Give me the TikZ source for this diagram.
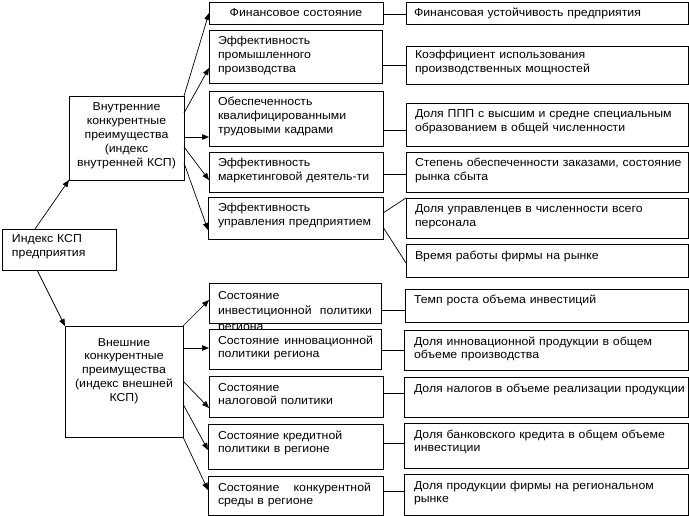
\documentclass[tikz,border=0pt]{standalone}
\usepackage{fontspec}
\setmainfont{Liberation Sans}[FakeStretch=1.07]
\usetikzlibrary{arrows.meta,calc}
\newcommand\fsz{\fontsize{11.5}{13.8}\selectfont}
\begin{document}
\begin{tikzpicture}[x=1pt,y=-1pt,
  bx/.style={draw=black, line width=0.8pt, fill=white, anchor=north west, inner sep=0pt, outer sep=0pt},
  txt/.style={anchor=base west, inner sep=0pt, outer sep=0pt, align=left, font=\fsz},
  ctxt/.style={anchor=base, inner sep=0pt, outer sep=0pt, align=center, font=\fsz},
  arr/.style={line width=0.7pt, -{Triangle[length=7pt,width=5.5pt]}},
  ln/.style={line width=0.7pt}]
\useasboundingbox (0,0) rectangle (689,516);

% ---------- central boxes ----------
\node[bx, minimum width=114, minimum height=41] (idx) at (2,229) {};
\node[txt, text width=104pt] (idxt) at ($(idx.north west)+(10,14)$) {Индекс КСП\\предприятия};

\node[bx, minimum width=115, minimum height=84] (inner) at (69,96) {};
\node[ctxt, text width=113pt] (innert) at ($(inner.north)+(0,15)$) {Внутренние\\конкурентные\\преимущества\\(индекс\\внутренней КСП)};

\node[bx, minimum width=118, minimum height=111] (outer) at (65,326) {};
\node[ctxt, text width=116pt] (outert) at ($(outer.north)+(0,20)$) {Внешние\\конкурентные\\преимущества\\(индекс внешней\\КСП)};

% ---------- upper middle column ----------
\node[bx, minimum width=174, minimum height=22] (f1) at (209,2) {};
\node[ctxt, text width=170pt] (f1t) at ($(f1.north)+(0,15)$) {Финансовое состояние};

\node[bx, minimum width=173, minimum height=53] (ep) at (209,30) {};
\node[txt, text width=162pt] (ept) at ($(ep.north west)+(9,15)$) {Эффективность\\промышленного\\производства};

\node[bx, minimum width=174, minimum height=55] (ob) at (209,91) {};
\node[txt, text width=163pt] (obt) at ($(ob.north west)+(9,15)$) {Обеспеченность\\квалифицированными\\трудовыми кадрами};

\node[bx, minimum width=174, minimum height=40] (mk) at (209,152) {};
\node[txt, text width=163pt] (mkt) at ($(mk.north west)+(9,15)$) {Эффективность\\маркетинговой деятель-ти};

\node[bx, minimum width=175, minimum height=42] (up) at (208,197) {};
\node[txt, text width=163pt] (upt) at ($(up.north west)+(10,15)$) {Эффективность\\управления предприятием};

% ---------- upper right column ----------
\node[bx, minimum width=282, minimum height=22] (rf1) at (406,2) {};
\node[txt, text width=272pt] (rf1t) at ($(rf1.north west)+(8,15)$) {Финансовая устойчивость предприятия};

\node[bx, minimum width=282, minimum height=38] (coef) at (406,46) {};
\node[txt, text width=272pt] (coeft) at ($(coef.north west)+(9,13)$) {Коэффициент использования\\производственных мощностей};

\node[bx, minimum width=282, minimum height=43] (ppp) at (406,103) {};
\node[txt, text width=272pt] (pppt) at ($(ppp.north west)+(9,15)$) {Доля ППП с высшим и средне специальным\\образованием в общей численности};

\node[bx, minimum width=282, minimum height=40] (st) at (406,152) {};
\node[txt, text width=272pt] (stt) at ($(st.north west)+(9,15)$) {Степень обеспеченности заказами, состояние\\рынка сбыта};

\node[bx, minimum width=282, minimum height=40] (upr) at (406,198) {};
\node[txt, text width=272pt] (uprt) at ($(upr.north west)+(9,15)$) {Доля управленцев в численности всего\\персонала};

\node[bx, minimum width=282, minimum height=33] (vr) at (406,244) {};
\node[txt, text width=272pt] (vrt) at ($(vr.north west)+(9,15)$) {Время работы фирмы на рынке};

% ---------- lower middle column ----------
\node[bx, minimum width=172, minimum height=40] (inv) at (209,283) {};
\node[txt, text width=154pt, font=\fontsize{11.5}{16}\selectfont] (invt) at ($(inv.north west)+(9,16)$) {Состояние\\инвестиционной\hfill политики\\региона};

\node[bx, minimum width=172, minimum height=40] (inn) at (209,329) {};
\node[txt, text width=155pt] (innt) at ($(inn.north west)+(9,15)$) {Состояние\hfill инновационной\\политики региона};

\node[bx, minimum width=174, minimum height=41] (nal) at (209,376) {};
\node[txt, text width=163pt] (nalt) at ($(nal.north west)+(9,15)$) {Состояние\\налоговой политики};

\node[bx, minimum width=175, minimum height=45] (kr) at (208,424) {};
\node[txt, text width=163pt] (krt) at ($(kr.north west)+(10,15)$) {Состояние кредитной\\политики в регионе};

\node[bx, minimum width=175, minimum height=39] (kon) at (208,476) {};
\node[txt, text width=153pt] (kont) at ($(kon.north west)+(10,15)$) {Состояние\hfill конкурентной\\среды в регионе};

% ---------- lower right column ----------
\node[bx, minimum width=283, minimum height=33] (temp) at (405,289) {};
\node[txt, text width=272pt] (tempt) at ($(temp.north west)+(9,15)$) {Темп роста объема инвестиций};

\node[bx, minimum width=284, minimum height=40] (dinn) at (404,330) {};
\node[txt, text width=272pt] (dinnt) at ($(dinn.north west)+(10,15)$) {Доля инновационной продукции в общем\\объеме производства};

\node[bx, minimum width=284, minimum height=40] (dnal) at (404,377) {};
\node[txt, text width=272pt] (dnalt) at ($(dnal.north west)+(10,15)$) {Доля налогов в объеме реализации продукции};

\node[bx, minimum width=284, minimum height=45] (bank) at (404,423) {};
\node[txt, text width=272pt] (bankt) at ($(bank.north west)+(10,15)$) {Доля банковского кредита в общем объеме\\инвестиции};

\node[bx, minimum width=284, minimum height=41] (prod) at (404,474) {};
\node[txt, text width=272pt] (prodt) at ($(prod.north west)+(10,15)$) {Доля продукции фирмы на региональном\\рынке};

% ---------- arrows from index ----------
\draw[arr] ($(idx.north west)+(33,0)$) -- (inner.south west);
\draw[arr] ($(idx.south west)+(35,0)$) -- (outer.north west);

% ---------- arrows from internal ----------
\draw[arr] (inner.north east) -- (f1.west);
\draw[arr] ($(inner.north east)+(0,17)$) -- ($(ep.north west)+(0,38)$);
\draw[arr] ($(inner.north east)+(0,41)$) -- ($(ob.north west)+(0,46)$);
\draw[arr] ($(inner.north east)+(0,51)$) -- ($(mk.north west)+(0,28)$);
\draw[arr] ($(inner.north east)+(0,67)$) -- ($(up.north west)+(0,33)$);

% ---------- arrows from external ----------
\draw[arr] (outer.north east) -- ($(inv.north west)+(0,17)$);
\draw[arr] ($(outer.north east)+(0,22)$) -- ($(inn.north west)+(0,19)$);
\draw[arr] ($(outer.north east)+(0,55)$) -- ($(nal.north west)+(0,32)$);
\draw[arr] ($(outer.north east)+(0,78)$) -- ($(kr.north west)+(0,26)$);
\draw[arr] (outer.south east) -- ($(kon.north west)+(0,14)$);

% ---------- connectors to indicators ----------
\coordinate (c1) at ($(rf1.north west)+(0,12)$);
\draw[ln] (f1.east |- c1) -- (c1);
\coordinate (c2) at ($(coef.north west)+(0,19)$);
\draw[ln] (ep.east |- c2) -- (c2);
\coordinate (c3) at ($(ppp.north west)+(0,27)$);
\draw[ln] (ob.east |- c3) -- (c3);
\coordinate (c4) at ($(st.north west)+(0,22)$);
\draw[ln] (mk.east |- c4) -- (c4);
\draw[ln] ($(up.north east)+(0,16)$) -- (upr.north west);
\draw[ln] ($(up.north east)+(0,30)$) -- ($(vr.north west)+(0,19)$);

\coordinate (c5) at ($(temp.north west)+(0,21)$);
\draw[ln] (inv.east |- c5) -- (c5);
\coordinate (c6) at ($(dinn.north west)+(0,20)$);
\draw[ln] (inn.east |- c6) -- (c6);
\coordinate (c7) at ($(dnal.north west)+(0,16)$);
\draw[ln] (nal.east |- c7) -- (c7);
\coordinate (c8) at ($(bank.north west)+(0,20)$);
\draw[ln] (kr.east |- c8) -- (c8);
\coordinate (c9) at ($(prod.north west)+(0,17)$);
\draw[ln] (kon.east |- c9) -- (c9);
\end{tikzpicture}
\end{document}
